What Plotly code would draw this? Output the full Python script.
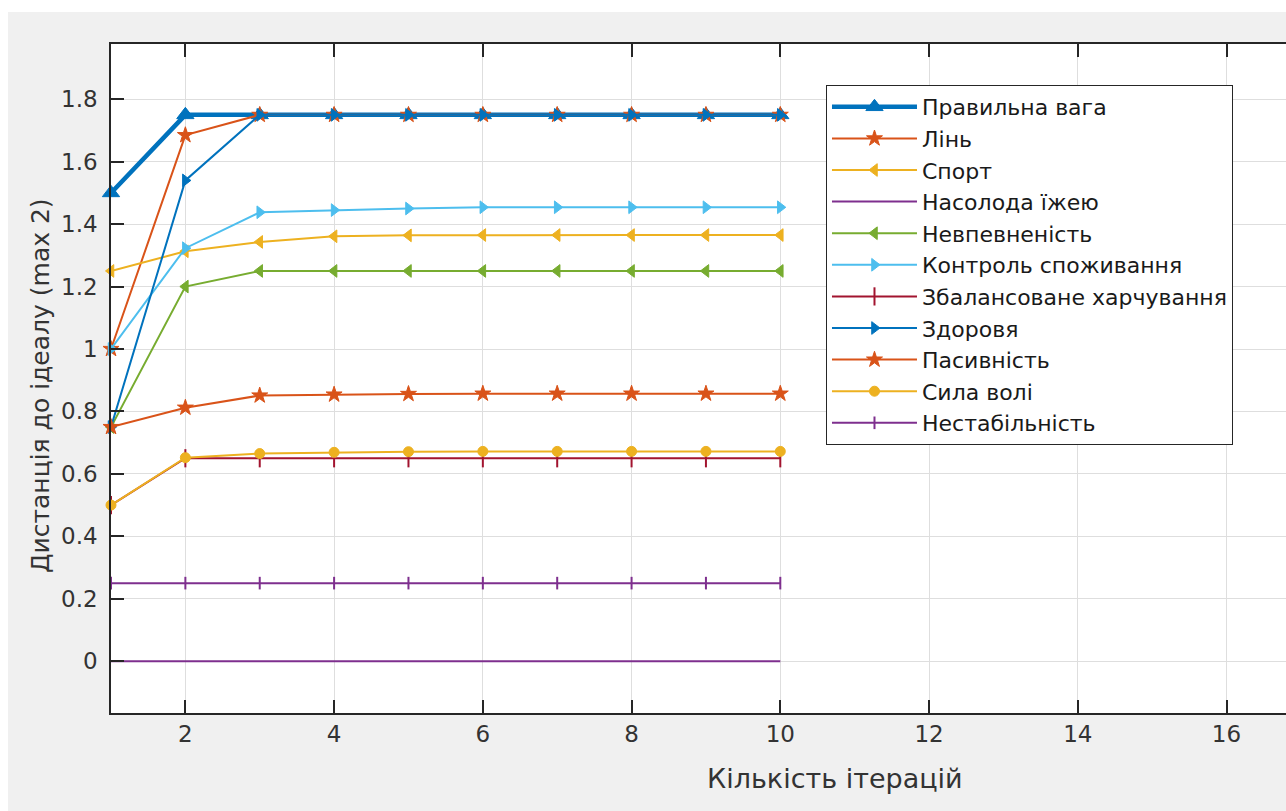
import plotly.graph_objects as go

# Iteration numbers
iterations = [1, 2, 3, 4, 5, 6, 7, 8, 9, 10]

# Distance to the ideal state for each concept, per iteration
pravylna_vaha = [1.5, 1.75, 1.75, 1.75, 1.75, 1.75, 1.75, 1.75, 1.75, 1.75]
lin = [1.0, 1.685, 1.75, 1.75, 1.75, 1.75, 1.75, 1.75, 1.75, 1.75]
sport = [1.25, 1.313, 1.343, 1.361, 1.364, 1.365, 1.365, 1.365, 1.365, 1.365]
nasoloda_yizheyu = [0, 0, 0, 0, 0, 0, 0, 0, 0, 0]
nevpevnenist = [0.75, 1.2, 1.25, 1.25, 1.25, 1.25, 1.25, 1.25, 1.25, 1.25]
kontrol_spozhyvannia = [1.0, 1.323, 1.438, 1.445, 1.45, 1.454, 1.454, 1.454, 1.454, 1.454]
zbalansovane_kharchuvannia = [0.5, 0.65, 0.65, 0.65, 0.65, 0.65, 0.65, 0.65, 0.65, 0.65]
zdorovia = [0.75, 1.54, 1.75, 1.75, 1.75, 1.75, 1.75, 1.75, 1.75, 1.75]
pasyvnist = [0.75, 0.812, 0.851, 0.854, 0.856, 0.857, 0.857, 0.857, 0.857, 0.857]
syla_voli = [0.5, 0.652, 0.665, 0.669, 0.671, 0.672, 0.672, 0.672, 0.672, 0.672]
nestabilnist = [0.25, 0.25, 0.25, 0.25, 0.25, 0.25, 0.25, 0.25, 0.25, 0.25]

series = [
    ("Правильна вага", pravylna_vaha, "#0072BD", 4.5, "triangle-up", 15),
    ("Лінь", lin, "#D95319", 2, "star", 12),
    ("Спорт", sport, "#EDB120", 2, "triangle-left", 11),
    ("Насолода їжею", nasoloda_yizheyu, "#7E2F8E", 2, None, 0),
    ("Невпевненість", nevpevnenist, "#77AC30", 2, "triangle-left", 11),
    ("Контроль споживання", kontrol_spozhyvannia, "#4DBEEE", 2, "triangle-right", 11),
    ("Збалансоване харчування", zbalansovane_kharchuvannia, "#A2142F", 2, "line-ns", 13),
    ("Здоровя", zdorovia, "#0072BD", 2, "triangle-right", 11),
    ("Пасивність", pasyvnist, "#D95319", 2, "star", 12),
    ("Сила волі", syla_voli, "#EDB120", 2, "circle", 10),
    ("Нестабільність", nestabilnist, "#7E2F8E", 2, "line-ns", 9),
]

fig = go.Figure()
for name, values, color, lw, symbol, msize in series:
    if symbol is None:
        fig.add_trace(go.Scatter(x=iterations, y=values, name=name, mode="lines",
                                 line=dict(color=color, width=lw), cliponaxis=False))
    else:
        fig.add_trace(go.Scatter(
            x=iterations, y=values, name=name, mode="lines+markers",
            line=dict(color=color, width=lw),
            marker=dict(symbol=symbol, size=msize, color=color,
                        line=dict(color=color, width=2 if symbol == "line-ns" else 1)),
            cliponaxis=False))

axis_color = "#262626"
text_color = "#333333"
font_family = "DejaVu Sans, Arial, sans-serif"

fig.update_layout(
    width=1286, height=811,
    margin=dict(l=111, r=0, t=44, b=98),
    paper_bgcolor="#f0f0f0",
    plot_bgcolor="white",
    font=dict(family=font_family, color=axis_color),
    showlegend=True,
    legend=dict(
        x=0.6085, y=0.9387, xanchor="left", yanchor="top",
        bgcolor="white", bordercolor=axis_color, borderwidth=1,
        font=dict(family=font_family, size=22, color="#1a1a1a"),
        tracegroupgap=0, itemwidth=85,
    ),
    xaxis=dict(
        range=[1, 16.80], tick0=0, dtick=2,
        showgrid=True, gridcolor="#dedede", gridwidth=1,
        ticks="inside", ticklen=13, tickwidth=1.5, tickcolor=axis_color,
        showline=True, linecolor=axis_color, linewidth=1.5, mirror="ticks",
        zeroline=False,
        tickfont=dict(size=23, color=text_color),
    ),
    yaxis=dict(
        range=[-0.166, 1.977], tick0=0, dtick=0.2,
        showgrid=True, gridcolor="#dedede", gridwidth=1,
        ticks="inside", ticklen=13, tickwidth=1.5, tickcolor=axis_color,
        showline=True, linecolor=axis_color, linewidth=1.5, mirror=False,
        zeroline=False, ticklabelstandoff=7,
        tickfont=dict(size=23, color=text_color),
    ),
    annotations=[
        dict(text="Кількість ітерацій", xref="paper", yref="paper",
             x=0.616, y=-0.098, xanchor="center", yanchor="middle",
             showarrow=False, font=dict(size=27, color=text_color)),
        dict(text="Дистанція до ідеалу (max 2)", xref="paper", yref="paper",
             x=-0.0605, y=0.49, xanchor="center", yanchor="middle", textangle=-90,
             showarrow=False, font=dict(size=25, color=text_color)),
    ],
    shapes=[
        # white margins around the grey figure window
        dict(type="rect", xref="paper", yref="paper", x0=-0.1, x1=1.01,
             y0=1.0478, y1=1.07, fillcolor="white", line=dict(width=0), layer="below"),
        dict(type="rect", xref="paper", yref="paper", x0=-0.1, x1=-0.0877,
             y0=-0.2, y1=1.07, fillcolor="white", line=dict(width=0), layer="below"),
    ],
)

fig.write_html("out.html")
